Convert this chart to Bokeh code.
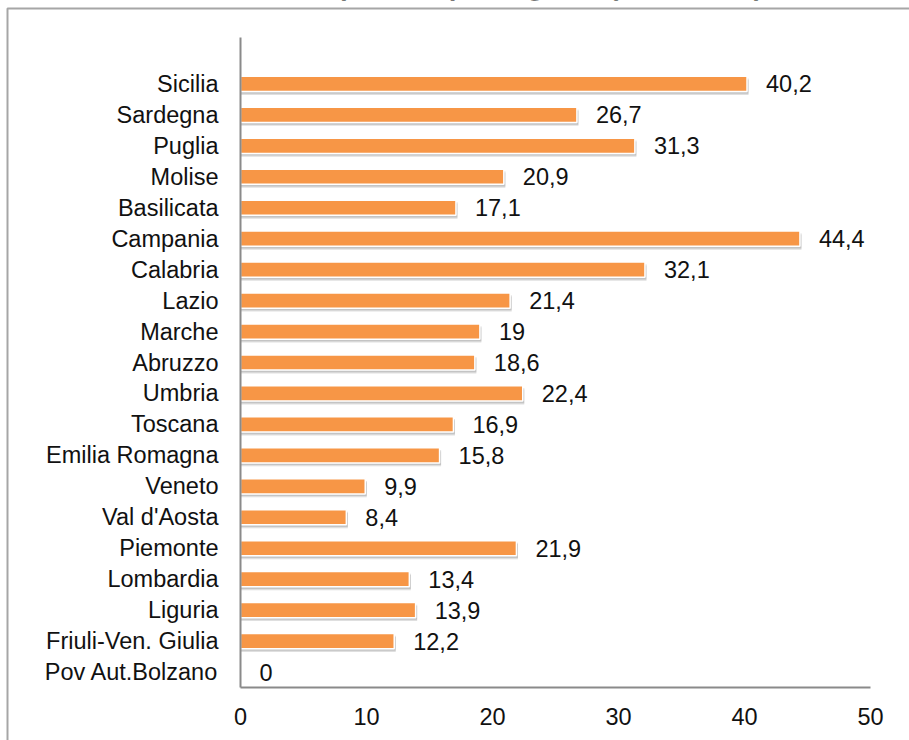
from bokeh.plotting import figure
from bokeh.models import Range1d, FixedTicker, ColumnDataSource, Label
from bokeh.core.properties import value
from bokeh.embed import file_html
from bokeh.resources import INLINE

# Regions listed top to bottom, with their percentage values
regions = ["Sicilia", "Sardegna", "Puglia", "Molise", "Basilicata", "Campania",
           "Calabria", "Lazio", "Marche", "Abruzzo", "Umbria", "Toscana",
           "Emilia Romagna", "Veneto", "Val d'Aosta", "Piemonte", "Lombardia",
           "Liguria", "Friuli-Ven. Giulia", "Pov Aut.Bolzano"]
values = [40.2, 26.7, 31.3, 20.9, 17.1, 44.4, 32.1, 21.4, 19, 18.6, 22.4, 16.9,
          15.8, 9.9, 8.4, 21.9, 13.4, 13.9, 12.2, 0]
x_ticks = [0, 10, 20, 30, 40, 50]
title_text = "Incidenza di povertà per regione (anno 2011)"

FONT = "Liberation Sans"
ORANGE = "#F79646"
BAR_H = 0.49
FS = "23.5px"

# page size and where the axes box sits on it (pixels)
W, H = 909, 740
AX_L, AX_R, AX_T, AX_B = 240, 870, 37, 687

n = len(regions)
pos = [n - 1 - i for i in range(n)]          # first region at the top
labels = [f"{v:g}".replace(".", ",") for v in values]

x0, x1 = 0, 50
y0, y1 = -0.5, n + 0.5
sx = (AX_R - AX_L) / (x1 - x0)
sy = (AX_B - AX_T) / (y1 - y0)
xs_start = x0 - AX_L / sx
ys_end = y1 + AX_T / sy


def px_x(px):
    return xs_start + px / sx


def px_y(py):
    return ys_end - py / sy


src = ColumnDataSource(dict(y=pos, v=values, lab=labels))

# the plot frame covers the whole page; the axes are pinned inside it
p = figure(frame_width=W, frame_height=H, min_border=0,
           x_range=Range1d(xs_start, x1 + (W - AX_R) / sx),
           y_range=Range1d(y0 - (H - AX_B) / sy, ys_end),
           output_backend="svg", toolbar_location=None)
p.background_fill_color = "white"
p.border_fill_color = "white"
p.outline_line_color = None
p.xgrid.visible = False
p.ygrid.visible = False

# outer chart border: left and top sides only, the rest runs off the page
p.line(x=[px_x(7), px_x(7), px_x(W + 20)],
       y=[px_y(H + 20), px_y(8), px_y(8)],
       line_color="#a6a6a6", line_width=2)

# soft drop shadow under each bar (two translucent layers)
for dy, a in ((0.11, 0.28), (0.07, 0.32)):
    sh = ColumnDataSource(dict(
        y=[yy - dy for yy, v in zip(pos, values) if v > 0],
        v=[v + 0.12 for v in values if v > 0],
    ))
    p.hbar(y="y", left=0, right="v", height=BAR_H, source=sh,
           fill_color="#8c8c8c", fill_alpha=a, line_color=None)

p.hbar(y="y", left=0, right="v", height=BAR_H, source=src,
       fill_color=ORANGE, line_color="white", line_width=1.5)

p.text(x="v", y="y", text="lab", source=src, x_offset=19,
       text_align="left", text_baseline="middle",
       text_font=value(FONT), text_font_size=value(FS), text_color="#111111")

# axes
for ax in (p.xaxis[0], p.yaxis[0]):
    ax.axis_line_color = "#8a8a8a"
    ax.axis_line_width = 2
    ax.major_tick_line_color = None
    ax.minor_tick_line_color = None
    ax.major_tick_out = 0
    ax.major_tick_in = 0
    ax.major_label_text_font = FONT
    ax.major_label_text_font_size = FS
    ax.major_label_text_color = "#111111"

p.xaxis.fixed_location = y0
p.xaxis.bounds = (x0, x1)
p.xaxis.ticker = FixedTicker(ticks=x_ticks)
p.xaxis.major_label_standoff = 20

p.yaxis.fixed_location = x0
p.yaxis.bounds = (y0, y1)
p.yaxis.ticker = FixedTicker(ticks=pos)
p.yaxis.major_label_overrides = {pp: r for pp, r in zip(pos, regions)}
p.yaxis.major_label_standoff = 22

# chart title, sitting mostly above the top of the page
p.add_layout(Label(x=467, y=H + 15, x_units="screen", y_units="screen",
                   text=title_text, text_align="center",
                   text_baseline="alphabetic", text_font=FONT,
                   text_font_size="28px", text_font_style="bold",
                   text_color="black"))

open("out.html", "w").write(file_html(p, INLINE))
